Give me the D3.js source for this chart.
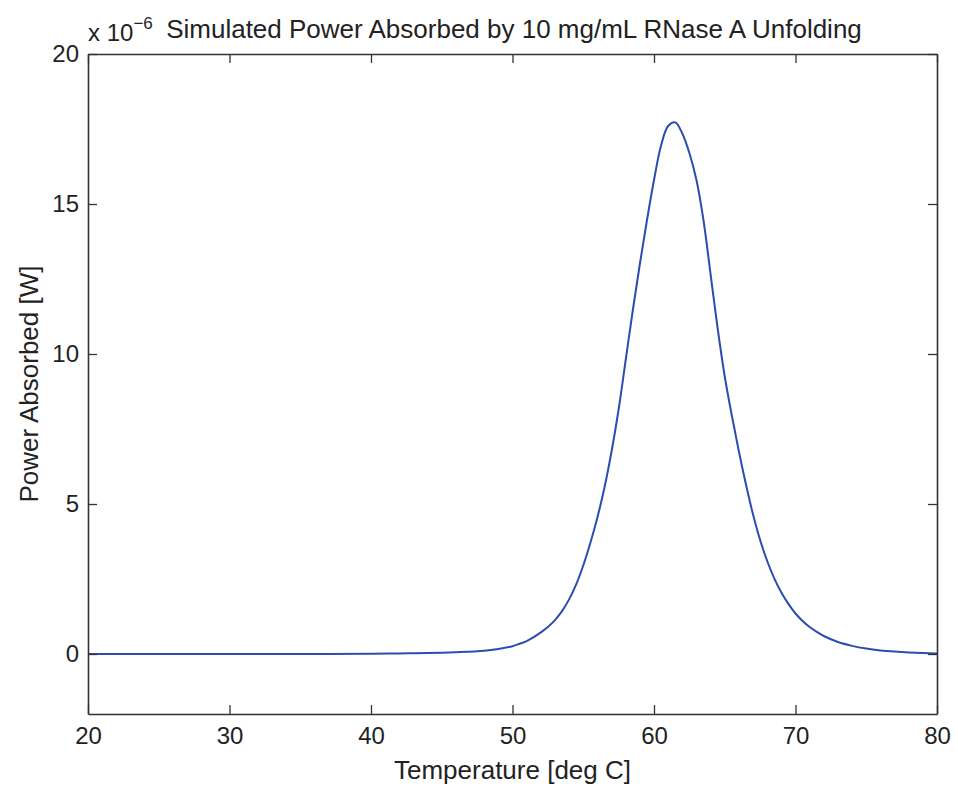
<!DOCTYPE html>
<html>
<head>
<meta charset="utf-8">
<script src="https://cdn.jsdelivr.net/npm/d3@7"></script>
<style>
  body { margin: 0; background: #fff; }
  text { font-family: "Liberation Sans", Arial, Helvetica, sans-serif; fill: #222; }
</style>
</head>
<body>
<script>
// power absorbed (x 1e-6 W) vs temperature
const temperature = [20, 25, 30, 35, 40, 42, 44, 46, 48, 49, 50, 50.5, 51, 51.5, 52, 52.5, 53, 53.5, 54, 54.5,
  55, 55.5, 56, 56.5, 57, 57.5, 58, 58.5, 59, 59.5, 60, 60.5, 61, 61.5, 62, 62.5, 63, 63.5, 64, 64.5,
  65, 65.5, 66, 66.5, 67, 67.5, 68, 68.5, 69, 69.5, 70, 70.5, 71, 71.5, 72, 73, 74, 75, 76, 77, 78, 79, 80]
const power = [0.00, 0.00, 0.00, 0.00, 0.01, 0.02, 0.03, 0.06, 0.11, 0.17, 0.26, 0.34, 0.43, 0.56, 0.72, 0.90, 1.13, 1.43, 1.82, 2.32,
  2.95, 3.70, 4.55, 5.55, 6.75, 8.15, 9.80, 11.45, 13.0, 14.45, 15.8, 16.95, 17.6, 17.72, 17.35, 16.7, 15.8, 14.45, 12.65, 10.85,
  9.25, 7.95, 6.75, 5.65, 4.65, 3.80, 3.10, 2.52, 2.05, 1.67, 1.35, 1.10, 0.90, 0.74, 0.60, 0.40, 0.27, 0.18, 0.12, 0.08, 0.05, 0.03, 0.02]

const xTicks = [20, 30, 40, 50, 60, 70, 80]
const yTicks = [0, 5, 10, 15, 20]

const titleText = "Simulated Power Absorbed by 10 mg/mL RNase A Unfolding"
const xLabel = "Temperature [deg C]"
const yLabel = "Power Absorbed [W]"

const m = { width: 958, height: 786, left: 88, right: 21, top: 54, bottom: 72 }

const svg = d3.select("body").append("svg")
    .attr("width", m.width)
    .attr("height", m.height)

const x = d3.scaleLinear().domain([20, 80]).range([m.left, m.width - m.right])
const y = d3.scaleLinear().domain([-2, 20]).range([m.height - m.bottom, m.top])

const data = temperature.map((t, i) => ({ t: t, p: power[i] }))

// curve
svg.append("path")
    .datum(data)
    .attr("fill", "none")
    .attr("stroke", "#2b4cb0")
    .attr("stroke-width", 2)
    .attr("d", d3.line()
        .x(d => x(d.t))
        .y(d => y(d.p))
        .curve(d3.curveCatmullRom.alpha(0.5)))

// axes with inward ticks on all four sides (matlab box)
const axisColor = "#333"
const tickLen = 9

const axBottom = svg.append("g")
    .attr("transform", `translate(0,${y.range()[0]})`)
    .call(d3.axisBottom(x).tickValues(xTicks).tickSizeInner(-tickLen).tickSizeOuter(0).tickPadding(13))
const axTop = svg.append("g")
    .attr("transform", `translate(0,${y.range()[1]})`)
    .call(d3.axisTop(x).tickValues(xTicks).tickSizeInner(-tickLen).tickSizeOuter(0).tickFormat(""))
const axLeft = svg.append("g")
    .attr("transform", `translate(${x.range()[0]},0)`)
    .call(d3.axisLeft(y).tickValues(yTicks).tickSizeInner(-tickLen).tickSizeOuter(0).tickPadding(9))
const axRight = svg.append("g")
    .attr("transform", `translate(${x.range()[1]},0)`)
    .call(d3.axisRight(y).tickValues(yTicks).tickSizeInner(-tickLen).tickSizeOuter(0).tickFormat(""))

;[axBottom, axTop, axLeft, axRight].forEach(g => {
    g.select(".domain").attr("stroke", axisColor).attr("stroke-width", 1.6)
    g.selectAll(".tick line").attr("stroke", axisColor).attr("stroke-width", 1.3)
    g.selectAll(".tick text")
        .attr("font-size", 24)
        .attr("font-family", "'Liberation Sans', Arial, sans-serif")
        .attr("fill", "#222")
})

// axis labels
svg.append("text")
    .attr("x", (x.range()[0] + x.range()[1]) / 2)
    .attr("y", 779)
    .attr("text-anchor", "middle")
    .attr("font-size", 26)
    .text(xLabel)

svg.append("text")
    .attr("transform", `translate(38,${(y.range()[0] + y.range()[1]) / 2}) rotate(-90)`)
    .attr("text-anchor", "middle")
    .attr("font-size", 26)
    .text(yLabel)

// exponent marker and title
const expo = svg.append("text")
    .attr("x", 88)
    .attr("y", 41)
    .attr("font-size", 24)
expo.append("tspan").text("x 10")
expo.append("tspan").attr("dy", -12).attr("font-size", 17).text("\u22126")

svg.append("text")
    .attr("x", 514)
    .attr("y", 38)
    .attr("text-anchor", "middle")
    .attr("font-size", 26)
    .text(titleText)
</script>
</body>
</html>
